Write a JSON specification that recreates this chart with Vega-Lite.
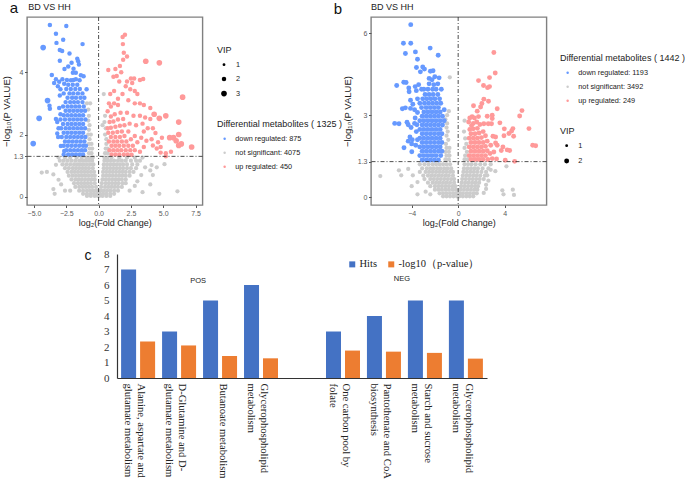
{"$schema":"https://vega.github.io/schema/vega-lite/v6.json","padding":{"left":0,"top":0,"right":12,"bottom":70},"background":"white","bounds":"flush","spacing":237,"resolve":{"scale":{"color":"independent","size":"independent"},"legend":{"color":"independent","size":"independent"}},
"config":{"view":{"stroke":"#808080","strokeWidth":1.4},"font":"Liberation Sans","axis":{"grid":false,"domain":false,"tickColor":"#555","tickSize":2.5,"labelColor":"#5a5a5a","labelFontSize":7,"titleFontSize":9,"titleFontWeight":"normal","titleColor":"#222","labelPadding":1.5,"labelOverlap":false},"legend":{"titleFontWeight":"normal","titleFontSize":9,"labelFontSize":7.3,"labelColor":"#222","titleColor":"#222"}},
"datasets":{
"ag":[{"x":-0.9,"y":0.03},{"x":-0.6,"y":0.03},{"x":-0.3,"y":0.03},{"x":-0.05,"y":0.03},{"x":0.05,"y":0.03},{"x":0.3,"y":0.03},{"x":0.6,"y":0.03},{"x":0.9,"y":0.03},
{"x":-1.2,"y":0.1},{"x":-0.9,"y":0.1},{"x":-0.6,"y":0.1},{"x":-0.35,"y":0.1},{"x":-0.1,"y":0.1},{"x":0.1,"y":0.1},{"x":0.35,"y":0.1},{"x":0.6,"y":0.1},{"x":0.9,"y":0.1},{"x":1.2,"y":0.1},
{"x":-1.5,"y":0.2},{"x":-1.2,"y":0.2},{"x":-0.9,"y":0.2},{"x":-0.65,"y":0.2},{"x":-0.4,"y":0.2},{"x":-0.15,"y":0.2},{"x":0.15,"y":0.2},{"x":0.4,"y":0.2},{"x":0.65,"y":0.2},{"x":0.9,"y":0.2},{"x":1.2,"y":0.2},{"x":1.5,"y":0.2},
{"x":-1.8,"y":0.32},{"x":-1.5,"y":0.32},{"x":-1.25,"y":0.32},{"x":-1,"y":0.32},{"x":-0.75,"y":0.32},{"x":-0.5,"y":0.32},{"x":-0.2,"y":0.32},{"x":0.2,"y":0.32},{"x":0.5,"y":0.32},{"x":0.75,"y":0.32},{"x":1,"y":0.32},{"x":1.25,"y":0.32},{"x":1.5,"y":0.32},{"x":1.8,"y":0.32},
{"x":-1.9,"y":0.44},{"x":-1.6,"y":0.44},{"x":-1.35,"y":0.44},{"x":-1.1,"y":0.44},{"x":-0.85,"y":0.44},{"x":-0.6,"y":0.44},{"x":-0.3,"y":0.44},{"x":0.25,"y":0.44},{"x":0.55,"y":0.44},{"x":0.8,"y":0.44},{"x":1.05,"y":0.44},{"x":1.3,"y":0.44},{"x":1.55,"y":0.44},{"x":1.85,"y":0.44},{"x":2.1,"y":0.44},
{"x":-2.1,"y":0.56},{"x":-1.8,"y":0.56},{"x":-1.55,"y":0.56},{"x":-1.3,"y":0.56},{"x":-1.05,"y":0.56},{"x":-0.8,"y":0.56},{"x":-0.55,"y":0.56},{"x":-0.3,"y":0.56},{"x":0.3,"y":0.56},{"x":0.55,"y":0.56},{"x":0.8,"y":0.56},{"x":1.05,"y":0.56},{"x":1.3,"y":0.56},{"x":1.55,"y":0.56},{"x":1.8,"y":0.56},{"x":2.1,"y":0.56},
{"x":-2.3,"y":0.68},{"x":-2,"y":0.68},{"x":-1.75,"y":0.68},{"x":-1.5,"y":0.68},{"x":-1.25,"y":0.68},{"x":-1,"y":0.68},{"x":-0.75,"y":0.68},{"x":-0.5,"y":0.68},{"x":-0.3,"y":0.68},{"x":0.35,"y":0.68},{"x":0.6,"y":0.68},{"x":0.85,"y":0.68},{"x":1.1,"y":0.68},{"x":1.35,"y":0.68},{"x":1.6,"y":0.68},{"x":1.85,"y":0.68},{"x":2.1,"y":0.68},{"x":2.4,"y":0.68},
{"x":-2.4,"y":0.8},{"x":-2.1,"y":0.8},{"x":-1.85,"y":0.8},{"x":-1.6,"y":0.8},{"x":-1.35,"y":0.8},{"x":-1.1,"y":0.8},{"x":-0.85,"y":0.8},{"x":-0.6,"y":0.8},{"x":-0.35,"y":0.8},{"x":0.35,"y":0.8},{"x":0.6,"y":0.8},{"x":0.85,"y":0.8},{"x":1.1,"y":0.8},{"x":1.35,"y":0.8},{"x":1.6,"y":0.8},{"x":1.85,"y":0.8},{"x":2.1,"y":0.8},{"x":2.4,"y":0.8},{"x":2.7,"y":0.8},
{"x":-2.6,"y":0.92},{"x":-2.3,"y":0.92},{"x":-2,"y":0.92},{"x":-1.75,"y":0.92},{"x":-1.5,"y":0.92},{"x":-1.25,"y":0.92},{"x":-1,"y":0.92},{"x":-0.75,"y":0.92},{"x":-0.45,"y":0.92},{"x":0.4,"y":0.92},{"x":0.65,"y":0.92},{"x":0.9,"y":0.92},{"x":1.15,"y":0.92},{"x":1.4,"y":0.92},{"x":1.65,"y":0.92},{"x":1.9,"y":0.92},{"x":2.2,"y":0.92},{"x":2.5,"y":0.92},{"x":2.9,"y":0.92},
{"x":-2.8,"y":1.04},{"x":-2.5,"y":1.04},{"x":-2.2,"y":1.04},{"x":-1.9,"y":1.04},{"x":-1.65,"y":1.04},{"x":-1.4,"y":1.04},{"x":-1.15,"y":1.04},{"x":-0.9,"y":1.04},{"x":-0.65,"y":1.04},{"x":-0.4,"y":1.04},{"x":0.4,"y":1.04},{"x":0.65,"y":1.04},{"x":0.9,"y":1.04},{"x":1.15,"y":1.04},{"x":1.4,"y":1.04},{"x":1.65,"y":1.04},{"x":1.9,"y":1.04},{"x":2.2,"y":1.04},{"x":2.6,"y":1.04},{"x":3,"y":1.04},
{"x":-3,"y":1.16},{"x":-2.7,"y":1.16},{"x":-2.4,"y":1.16},{"x":-2.1,"y":1.16},{"x":-1.8,"y":1.16},{"x":-1.5,"y":1.16},{"x":-1.25,"y":1.16},{"x":-1,"y":1.16},{"x":-0.75,"y":1.16},{"x":-0.5,"y":1.16},{"x":0.45,"y":1.16},{"x":0.7,"y":1.16},{"x":0.95,"y":1.16},{"x":1.2,"y":1.16},{"x":1.5,"y":1.16},{"x":1.8,"y":1.16},{"x":2.1,"y":1.16},{"x":2.5,"y":1.16},{"x":2.9,"y":1.16},{"x":3.2,"y":1.16},
{"x":-3.1,"y":1.26},{"x":-2.6,"y":1.26},{"x":-2.2,"y":1.26},{"x":-1.7,"y":1.26},{"x":-1.3,"y":1.26},{"x":-0.95,"y":1.26},{"x":-0.7,"y":1.26},{"x":-0.45,"y":1.26},{"x":0.45,"y":1.26},{"x":0.7,"y":1.26},{"x":1,"y":1.26},{"x":1.6,"y":1.26},{"x":2.2,"y":1.26},{"x":2.8,"y":1.26},{"x":3.4,"y":1.26},
{"x":-0.75,"y":1.4},{"x":-0.55,"y":1.4},{"x":-0.7,"y":1.55},{"x":-0.5,"y":1.55},{"x":-0.75,"y":1.7},{"x":-0.55,"y":1.7},{"x":-0.7,"y":1.85},{"x":-0.8,"y":2},{"x":-0.6,"y":2},{"x":-0.75,"y":2.15},{"x":-0.7,"y":2.3},{"x":-0.8,"y":2.45},{"x":-0.75,"y":2.6},{"x":-0.8,"y":2.8},{"x":-0.65,"y":3},{"x":-0.9,"y":3},
{"x":0.5,"y":1.4},{"x":0.7,"y":1.4},{"x":0.55,"y":1.55},{"x":0.7,"y":1.55},{"x":0.6,"y":1.7},{"x":0.6,"y":1.85},{"x":0.5,"y":2},{"x":0.55,"y":2.2},{"x":0.45,"y":2.4},{"x":0.5,"y":2.6},{"x":0.4,"y":3.3},{"x":0.3,"y":2.3},
{"x":-4.4,"y":0.78},{"x":-4,"y":0.8},{"x":-3.5,"y":0.72},{"x":-3.3,"y":1.03},{"x":-3.1,"y":0.55},{"x":-3.5,"y":0.25},{"x":-3.4,"y":0.1},{"x":-2.9,"y":0.4},{"x":-2.6,"y":0.2},{"x":-2.2,"y":0.2},{"x":3.3,"y":0.7},{"x":3.6,"y":0.95},{"x":4,"y":0.85},{"x":4.1,"y":1.02},{"x":4.5,"y":0.95},{"x":4.2,"y":0.7},{"x":5.1,"y":1.05},{"x":4,"y":0.4},{"x":3.4,"y":0.15},{"x":2.8,"y":0.35},{"x":3,"y":0.5},{"x":4.7,"y":0.1},{"x":6.1,"y":0.18},{"x":2.4,"y":0.2}],
"ab":[{"x":-3.77,"y":5.51,"v":2},{"x":-2.5,"y":5.48,"v":2},{"x":-3.3,"y":5.23,"v":2},{"x":-2.74,"y":5.04,"v":2},{"x":-3.26,"y":4.94,"v":2},{"x":-1.24,"y":4.9,"v":2},{"x":-4.29,"y":4.79,"v":3},{"x":-3,"y":4.71,"v":2},{"x":-2.82,"y":4.68,"v":2},{"x":-2.25,"y":4.6,"v":2},{"x":-1.65,"y":4.43,"v":2},{"x":-1.58,"y":4.35,"v":2},{"x":-1.52,"y":4.25,"v":2},{"x":-3,"y":4.37,"v":2},{"x":-2.09,"y":4.3,"v":2},{"x":-2.35,"y":4.18,"v":2},{"x":-2.64,"y":4.1,"v":2},{"x":-1.94,"y":4.11,"v":2},{"x":-1.99,"y":3.98,"v":2},{"x":-1.76,"y":3.98,"v":2},{"x":-3.62,"y":3.91,"v":2},{"x":-1.37,"y":3.9,"v":2},{"x":-1.16,"y":3.87,"v":2},{"x":-3.3,"y":3.77,"v":2},{"x":-3.44,"y":3.65,"v":2},{"x":-2.8,"y":3.77,"v":2},{"x":-3.05,"y":3.69,"v":2},{"x":-2.66,"y":3.63,"v":2},{"x":-2.14,"y":3.74,"v":2},{"x":-1.76,"y":3.77,"v":2},{"x":-1.47,"y":3.74,"v":2},{"x":-3.95,"y":3.09,"v":3},{"x":-3.8,"y":2.92,"v":2},{"x":-3.77,"y":2.83,"v":2},{"x":-4.6,"y":2.52,"v":3},{"x":-5.06,"y":1.71,"v":3},{"x":-0.93,"y":3.45,"v":2},{"x":-3.3,"y":2.5,"v":2},{"x":-3.2,"y":2.03,"v":2},{"x":-3.13,"y":1.92,"v":2},{"x":-2.92,"y":1.63,"v":2},{"x":-2.66,"y":1.47,"v":2},{"x":-3.15,"y":3.55,"v":2},{"x":-2.95,"y":3.45,"v":2},{"x":-3,"y":3.25,"v":2},{"x":-3.05,"y":2.85,"v":2},{"x":-2.95,"y":2.65,"v":2},{"x":-3.2,"y":2.4,"v":2},{"x":-3.1,"y":2.2,"v":2},
{"x":-2.7,"y":1.36,"v":2},{"x":-2.35,"y":1.36,"v":2},{"x":-2.05,"y":1.36,"v":2},{"x":-1.75,"y":1.36,"v":2},{"x":-1.45,"y":1.36,"v":2},{"x":-1.2,"y":1.36,"v":2},{"x":-2.5,"y":1.5,"v":2},{"x":-2.2,"y":1.5,"v":2},{"x":-1.9,"y":1.5,"v":2},{"x":-1.6,"y":1.5,"v":2},{"x":-1.3,"y":1.5,"v":2},{"x":-1.05,"y":1.5,"v":2},{"x":-2.7,"y":1.64,"v":2},{"x":-2.4,"y":1.64,"v":2},{"x":-2.1,"y":1.64,"v":2},{"x":-1.8,"y":1.64,"v":2},{"x":-1.5,"y":1.64,"v":2},{"x":-1.2,"y":1.64,"v":2},{"x":-0.98,"y":1.64,"v":2},{"x":-2.6,"y":1.78,"v":2},{"x":-2.3,"y":1.78,"v":2},{"x":-2,"y":1.78,"v":2},{"x":-1.7,"y":1.78,"v":2},{"x":-1.4,"y":1.78,"v":2},{"x":-1.1,"y":1.78,"v":2},{"x":-2.85,"y":1.92,"v":2},{"x":-2.5,"y":1.92,"v":2},{"x":-2.2,"y":1.92,"v":2},{"x":-1.9,"y":1.92,"v":2},{"x":-1.6,"y":1.92,"v":2},{"x":-1.3,"y":1.92,"v":2},{"x":-1.02,"y":1.92,"v":2},{"x":-2.7,"y":2.06,"v":2},{"x":-2.4,"y":2.06,"v":2},{"x":-2.1,"y":2.06,"v":2},{"x":-1.8,"y":2.06,"v":2},{"x":-1.5,"y":2.06,"v":2},{"x":-1.2,"y":2.06,"v":2},{"x":-2.9,"y":2.2,"v":2},{"x":-2.55,"y":2.2,"v":2},{"x":-2.25,"y":2.2,"v":2},{"x":-1.95,"y":2.2,"v":2},{"x":-1.65,"y":2.2,"v":2},{"x":-1.35,"y":2.2,"v":2},{"x":-1.05,"y":2.2,"v":2},{"x":-2.75,"y":2.34,"v":2},{"x":-2.4,"y":2.34,"v":2},{"x":-2.1,"y":2.34,"v":2},{"x":-1.8,"y":2.34,"v":2},{"x":-1.5,"y":2.34,"v":2},{"x":-1.2,"y":2.34,"v":2},{"x":-2.95,"y":2.48,"v":2},{"x":-2.6,"y":2.48,"v":2},{"x":-2.25,"y":2.48,"v":2},{"x":-1.95,"y":2.48,"v":2},{"x":-1.65,"y":2.48,"v":2},{"x":-1.35,"y":2.48,"v":2},{"x":-1.02,"y":2.48,"v":2},{"x":-2.7,"y":2.62,"v":2},{"x":-2.4,"y":2.62,"v":2},{"x":-2.1,"y":2.62,"v":2},{"x":-1.8,"y":2.62,"v":2},{"x":-1.5,"y":2.62,"v":2},{"x":-1.2,"y":2.62,"v":2},{"x":-2.55,"y":2.76,"v":2},{"x":-2.25,"y":2.76,"v":2},{"x":-1.95,"y":2.76,"v":2},{"x":-1.65,"y":2.76,"v":2},{"x":-1.35,"y":2.76,"v":2},{"x":-1.05,"y":2.76,"v":2},{"x":-2.75,"y":2.9,"v":2},{"x":-2.4,"y":2.9,"v":2},{"x":-2.1,"y":2.9,"v":2},{"x":-1.8,"y":2.9,"v":2},{"x":-1.5,"y":2.9,"v":2},{"x":-1.15,"y":2.9,"v":2},{"x":-2.55,"y":3.04,"v":2},{"x":-2.2,"y":3.04,"v":2},{"x":-1.9,"y":3.04,"v":2},{"x":-1.6,"y":3.04,"v":2},{"x":-1.25,"y":3.04,"v":2},{"x":-2.4,"y":3.18,"v":2},{"x":-2.05,"y":3.18,"v":2},{"x":-1.75,"y":3.18,"v":2},{"x":-1.4,"y":3.18,"v":2},{"x":-1.1,"y":3.18,"v":2},{"x":-2.7,"y":3.32,"v":2},{"x":-2.25,"y":3.32,"v":2},{"x":-1.95,"y":3.32,"v":2},{"x":-1.6,"y":3.32,"v":2},{"x":-1.25,"y":3.32,"v":2},{"x":-2.5,"y":3.46,"v":2},{"x":-2.15,"y":3.46,"v":2},{"x":-1.8,"y":3.46,"v":2},{"x":-1.45,"y":3.46,"v":2},{"x":-2.35,"y":3.6,"v":2},{"x":-2,"y":3.6,"v":2},{"x":-1.65,"y":3.6,"v":2},{"x":-2.45,"y":3.75,"v":2},{"x":-1.95,"y":3.75,"v":2}],
"ap":[{"x":2.04,"y":5.2,"v":2},{"x":1.86,"y":5.13,"v":2},{"x":1.88,"y":4.9,"v":2},{"x":1.95,"y":4.62,"v":2},{"x":2.2,"y":4.5,"v":2},{"x":1.9,"y":4.4,"v":2},{"x":3.65,"y":4.35,"v":3},{"x":4.7,"y":4.3,"v":3},{"x":1.65,"y":4.2,"v":2},{"x":1.3,"y":4.1,"v":2},{"x":0.75,"y":4.07,"v":2},{"x":1.75,"y":4,"v":2},{"x":1.4,"y":3.88,"v":2},{"x":1.15,"y":3.85,"v":2},{"x":1.6,"y":3.7,"v":2},{"x":2.5,"y":3.8,"v":2},{"x":2.75,"y":3.8,"v":2},{"x":3.2,"y":3.75,"v":2},{"x":3.45,"y":3.78,"v":2},{"x":2.2,"y":3.7,"v":2},{"x":2.6,"y":3.65,"v":2},{"x":2.1,"y":3.55,"v":2},{"x":2.8,"y":3.4,"v":2},{"x":1.2,"y":3.4,"v":2},{"x":0.9,"y":3.3,"v":2},{"x":1.85,"y":3.3,"v":2},{"x":2.45,"y":3.45,"v":2},{"x":3,"y":3.3,"v":2},{"x":1.5,"y":3.15,"v":2},{"x":1.2,"y":3,"v":2},{"x":0.8,"y":3,"v":2},{"x":0.95,"y":2.9,"v":2},{"x":1.5,"y":2.95,"v":2},{"x":2.3,"y":3.1,"v":2},{"x":2.8,"y":3,"v":2},{"x":3.2,"y":3,"v":2},{"x":3.5,"y":2.95,"v":2},{"x":4,"y":2.85,"v":2},{"x":6.5,"y":3.2,"v":3},{"x":4.3,"y":2.65,"v":3},{"x":5.2,"y":2.6,"v":3},{"x":4.7,"y":2.52,"v":3},{"x":6.2,"y":2.4,"v":3},{"x":4,"y":2.5,"v":2},{"x":3.6,"y":2.55,"v":2},{"x":3.2,"y":2.6,"v":2},{"x":2.7,"y":2.6,"v":2},{"x":2.2,"y":2.7,"v":2},{"x":1.7,"y":2.7,"v":2},{"x":1.25,"y":2.65,"v":2},{"x":0.7,"y":2.75,"v":2},{"x":3.4,"y":2.35,"v":2},{"x":3.8,"y":2.2,"v":2},{"x":4.2,"y":2.2,"v":2},{"x":4.4,"y":2.05,"v":2},{"x":3.5,"y":2.1,"v":2},{"x":2.9,"y":2.3,"v":2},{"x":2.4,"y":2.35,"v":2},{"x":5.5,"y":1.9,"v":3},{"x":5.8,"y":1.9,"v":3},{"x":6.2,"y":2,"v":3},{"x":6,"y":1.8,"v":3},{"x":6.2,"y":1.65,"v":3},{"x":6.4,"y":1.7,"v":3},{"x":7.2,"y":1.6,"v":3},{"x":4.9,"y":1.9,"v":2},{"x":4.6,"y":1.75,"v":2},{"x":4.1,"y":1.85,"v":2},{"x":3.7,"y":1.8,"v":2},{"x":4.2,"y":1.65,"v":2},{"x":4.5,"y":1.55,"v":2},{"x":4.8,"y":1.6,"v":2},{"x":5.6,"y":1.45,"v":2},{"x":4.8,"y":1.42,"v":2},{"x":5.2,"y":1.3,"v":2},{"x":5.2,"y":1.4,"v":2},{"x":3.3,"y":1.9,"v":2},{"x":3,"y":1.75,"v":2},{"x":3.5,"y":1.6,"v":2},{"x":3.2,"y":1.45,"v":2},{"x":2.8,"y":1.5,"v":2},{"x":2.55,"y":1.35,"v":2},
{"x":1,"y":1.36,"v":2},{"x":1.3,"y":1.36,"v":2},{"x":1.6,"y":1.36,"v":2},{"x":1.95,"y":1.36,"v":2},{"x":2.25,"y":1.36,"v":2},{"x":0.85,"y":1.5,"v":2},{"x":1.15,"y":1.5,"v":2},{"x":1.45,"y":1.5,"v":2},{"x":1.75,"y":1.5,"v":2},{"x":2.1,"y":1.5,"v":2},{"x":2.45,"y":1.5,"v":2},{"x":1,"y":1.64,"v":2},{"x":1.3,"y":1.64,"v":2},{"x":1.6,"y":1.64,"v":2},{"x":1.95,"y":1.64,"v":2},{"x":2.3,"y":1.64,"v":2},{"x":2.65,"y":1.64,"v":2},{"x":0.8,"y":1.78,"v":2},{"x":1.15,"y":1.78,"v":2},{"x":1.45,"y":1.78,"v":2},{"x":1.8,"y":1.78,"v":2},{"x":2.15,"y":1.78,"v":2},{"x":2.5,"y":1.85,"v":2},{"x":0.95,"y":1.92,"v":2},{"x":1.3,"y":1.92,"v":2},{"x":1.65,"y":1.92,"v":2},{"x":2,"y":1.95,"v":2},{"x":2.8,"y":1.95,"v":2},{"x":0.75,"y":2.06,"v":2},{"x":1.1,"y":2.06,"v":2},{"x":1.45,"y":2.08,"v":2},{"x":1.8,"y":2.1,"v":2},{"x":2.3,"y":2.1,"v":2},{"x":0.7,"y":2.2,"v":2},{"x":0.95,"y":2.22,"v":2},{"x":1.3,"y":2.25,"v":2},{"x":1.65,"y":2.28,"v":2},{"x":2,"y":2.3,"v":2},{"x":0.85,"y":2.4,"v":2},{"x":1.15,"y":2.42,"v":2},{"x":1.5,"y":2.48,"v":2},{"x":1.9,"y":2.5,"v":2},{"x":0.95,"y":2.58,"v":2}],
"bg":[{"x":-1.3,"y":0.03},{"x":-1,"y":0.03},{"x":-0.7,"y":0.03},{"x":-0.4,"y":0.03},{"x":-0.1,"y":0.03},{"x":0.1,"y":0.03},{"x":0.4,"y":0.03},{"x":0.7,"y":0.03},{"x":1,"y":0.03},{"x":1.3,"y":0.03},
{"x":-1.6,"y":0.14},{"x":-1.3,"y":0.14},{"x":-1,"y":0.14},{"x":-0.7,"y":0.14},{"x":-0.4,"y":0.14},{"x":-0.15,"y":0.14},{"x":0.15,"y":0.14},{"x":0.4,"y":0.14},{"x":0.7,"y":0.14},{"x":1,"y":0.14},{"x":1.3,"y":0.14},{"x":1.6,"y":0.14},
{"x":-2,"y":0.27},{"x":-1.7,"y":0.27},{"x":-1.4,"y":0.27},{"x":-1.1,"y":0.27},{"x":-0.8,"y":0.27},{"x":-0.5,"y":0.27},{"x":-0.2,"y":0.27},{"x":0.2,"y":0.27},{"x":0.5,"y":0.27},{"x":0.8,"y":0.27},{"x":1.1,"y":0.27},{"x":1.4,"y":0.27},{"x":1.65,"y":0.27},
{"x":-2.4,"y":0.4},{"x":-2,"y":0.4},{"x":-1.7,"y":0.4},{"x":-1.4,"y":0.4},{"x":-1.1,"y":0.4},{"x":-0.8,"y":0.4},{"x":-0.5,"y":0.4},{"x":-0.25,"y":0.4},{"x":0.25,"y":0.4},{"x":0.55,"y":0.4},{"x":0.85,"y":0.4},{"x":1.15,"y":0.4},{"x":1.45,"y":0.4},{"x":1.7,"y":0.4},
{"x":-2.6,"y":0.53},{"x":-2.2,"y":0.53},{"x":-1.9,"y":0.53},{"x":-1.6,"y":0.53},{"x":-1.3,"y":0.53},{"x":-1,"y":0.53},{"x":-0.7,"y":0.53},{"x":-0.35,"y":0.53},{"x":0.3,"y":0.53},{"x":0.6,"y":0.53},{"x":0.9,"y":0.53},{"x":1.2,"y":0.53},{"x":1.5,"y":0.53},{"x":1.8,"y":0.53},
{"x":-2.9,"y":0.66},{"x":-2.4,"y":0.66},{"x":-2.1,"y":0.66},{"x":-1.8,"y":0.66},{"x":-1.5,"y":0.66},{"x":-1.2,"y":0.66},{"x":-0.9,"y":0.66},{"x":-0.6,"y":0.66},{"x":-0.35,"y":0.66},{"x":0.35,"y":0.66},{"x":0.65,"y":0.66},{"x":0.95,"y":0.66},{"x":1.25,"y":0.66},{"x":1.55,"y":0.66},{"x":1.85,"y":0.66},{"x":2.2,"y":0.66},
{"x":-3,"y":0.79},{"x":-2.6,"y":0.79},{"x":-2.3,"y":0.79},{"x":-2,"y":0.79},{"x":-1.7,"y":0.79},{"x":-1.4,"y":0.79},{"x":-1.1,"y":0.79},{"x":-0.8,"y":0.79},{"x":-0.45,"y":0.79},{"x":0.4,"y":0.79},{"x":0.7,"y":0.79},{"x":1,"y":0.79},{"x":1.3,"y":0.79},{"x":1.6,"y":0.79},{"x":1.9,"y":0.79},{"x":2.3,"y":0.79},
{"x":-3.3,"y":0.92},{"x":-2.8,"y":0.92},{"x":-2.5,"y":0.92},{"x":-2.2,"y":0.92},{"x":-1.9,"y":0.92},{"x":-1.6,"y":0.92},{"x":-1.3,"y":0.92},{"x":-1,"y":0.92},{"x":-0.7,"y":0.92},{"x":-0.45,"y":0.92},{"x":0.45,"y":0.92},{"x":0.75,"y":0.92},{"x":1.05,"y":0.92},{"x":1.35,"y":0.92},{"x":1.65,"y":0.92},{"x":2,"y":0.92},{"x":2.4,"y":0.92},
{"x":-3.1,"y":1.05},{"x":-2.7,"y":1.05},{"x":-2.4,"y":1.05},{"x":-2.1,"y":1.05},{"x":-1.8,"y":1.05},{"x":-1.5,"y":1.05},{"x":-1.2,"y":1.05},{"x":-0.9,"y":1.05},{"x":-0.6,"y":1.05},{"x":0.5,"y":1.05},{"x":0.8,"y":1.05},{"x":1.1,"y":1.05},{"x":1.4,"y":1.05},{"x":1.7,"y":1.05},{"x":2.1,"y":1.05},{"x":2.6,"y":1.05},
{"x":-3.3,"y":1.2},{"x":-2.9,"y":1.2},{"x":-2.55,"y":1.2},{"x":-2.2,"y":1.2},{"x":-1.9,"y":1.2},{"x":-1.6,"y":1.2},{"x":-1.3,"y":1.2},{"x":-1,"y":1.2},{"x":-0.7,"y":1.2},{"x":0.55,"y":1.2},{"x":0.85,"y":1.2},{"x":1.15,"y":1.2},{"x":1.5,"y":1.2},{"x":1.9,"y":1.2},{"x":2.3,"y":1.2},{"x":2.8,"y":1.2},
{"x":-1.1,"y":1.38},{"x":-0.8,"y":1.38},{"x":-1,"y":1.52},{"x":-0.75,"y":1.52},{"x":-1.1,"y":1.66},{"x":-0.8,"y":1.66},{"x":-1,"y":1.8},{"x":-0.75,"y":1.8},{"x":-1.05,"y":1.95},{"x":-0.85,"y":2.1},{"x":-1,"y":2.25},{"x":-0.9,"y":2.4},{"x":-1,"y":2.55},{"x":-0.95,"y":2.7},{"x":-1.1,"y":2.85},{"x":-0.95,"y":3},{"x":-0.8,"y":3.15},{"x":-0.72,"y":4.39},
{"x":0.55,"y":1.38},{"x":0.8,"y":1.38},{"x":0.6,"y":1.52},{"x":0.75,"y":1.66},{"x":0.55,"y":1.8},{"x":0.7,"y":1.95},{"x":0.6,"y":2.15},{"x":0.5,"y":2.4},{"x":0.55,"y":2.8},
{"x":-6.7,"y":0.77},{"x":-5.1,"y":0.98},{"x":-4.9,"y":0.8},{"x":-4.3,"y":1.03},{"x":-3.9,"y":0.8},{"x":-4,"y":0.4},{"x":-3.5,"y":0.55},{"x":-3.5,"y":0.1},{"x":-2.8,"y":0.2},{"x":-2.4,"y":0.1},{"x":2.4,"y":0.45},{"x":2.6,"y":0.6},{"x":2.4,"y":0.3},{"x":2.5,"y":0.8},{"x":2.8,"y":1},{"x":3.2,"y":0.95},{"x":4.15,"y":1.13},{"x":3.8,"y":0.25},{"x":3.9,"y":0.1},{"x":4.7,"y":0.27},{"x":4.8,"y":0.08},{"x":2.2,"y":0.15}],
"bb":[{"x":-4.08,"y":6.32,"v":2},{"x":-4.71,"y":5.64,"v":2},{"x":-4.08,"y":5.64,"v":2},{"x":-4.54,"y":5.26,"v":2},{"x":-3.68,"y":5.32,"v":2},{"x":-2.41,"y":5.46,"v":2},{"x":-1.72,"y":5.2,"v":2},{"x":-3.5,"y":5.05,"v":2},{"x":-3.05,"y":4.77,"v":2},{"x":-3.59,"y":4.75,"v":2},{"x":-2.9,"y":4.69,"v":2},{"x":-3.25,"y":4.59,"v":2},{"x":-2.16,"y":4.63,"v":2},{"x":-2.39,"y":4.61,"v":2},{"x":-1.64,"y":4.37,"v":2},{"x":-2.01,"y":4.41,"v":2},{"x":-4.68,"y":4.21,"v":2},{"x":-4.48,"y":4.2,"v":2},{"x":-5.29,"y":4.09,"v":2},{"x":-5.46,"y":2.7,"v":2},{"x":-5.09,"y":2.69,"v":2},{"x":-4.66,"y":1.81,"v":2},{"x":-3.99,"y":1.66,"v":2},{"x":-4.8,"y":3.24,"v":2},{"x":-4.54,"y":3.27,"v":2},{"x":-4.4,"y":2.74,"v":2},{"x":-4.25,"y":4,"v":2},{"x":-4.22,"y":3.86,"v":2},{"x":-3.4,"y":4.12,"v":2},{"x":-3.7,"y":4.05,"v":2},{"x":-3.15,"y":3.95,"v":2},{"x":-3.6,"y":3.9,"v":2},{"x":-2.5,"y":4.35,"v":2},{"x":-2.25,"y":4.3,"v":2},{"x":-2.5,"y":4.15,"v":2},{"x":-2.1,"y":4.12,"v":2},{"x":-1.75,"y":4.15,"v":2},{"x":-1.45,"y":3.95,"v":2},{"x":-1.2,"y":3.2,"v":2},{"x":-4.1,"y":3.55,"v":2},{"x":-3.9,"y":3.4,"v":2},{"x":-4.1,"y":3.25,"v":2},{"x":-3.75,"y":3.2,"v":2},{"x":-4.3,"y":2.65,"v":2},{"x":-4.05,"y":2.55,"v":2},{"x":-3.75,"y":2.7,"v":2},{"x":-4.15,"y":2.2,"v":2},{"x":-4.3,"y":2.05,"v":2},{"x":-3.95,"y":2.1,"v":2},{"x":-4,"y":1.95,"v":2},{"x":-3.6,"y":2.4,"v":2},{"x":-3.7,"y":2.9,"v":2},{"x":-3.5,"y":3.1,"v":2},{"x":-3.5,"y":3.6,"v":2},{"x":-3.65,"y":1.9,"v":2},{"x":-3.5,"y":2.1,"v":2},{"x":-3.55,"y":2.65,"v":2},
{"x":-3.1,"y":1.36,"v":2},{"x":-2.75,"y":1.36,"v":2},{"x":-2.4,"y":1.36,"v":2},{"x":-2.05,"y":1.36,"v":2},{"x":-1.7,"y":1.36,"v":2},{"x":-3.3,"y":1.52,"v":2},{"x":-2.95,"y":1.52,"v":2},{"x":-2.6,"y":1.52,"v":2},{"x":-2.25,"y":1.52,"v":2},{"x":-1.9,"y":1.52,"v":2},{"x":-1.5,"y":1.52,"v":2},{"x":-3.1,"y":1.68,"v":2},{"x":-2.75,"y":1.68,"v":2},{"x":-2.4,"y":1.68,"v":2},{"x":-2.05,"y":1.68,"v":2},{"x":-1.7,"y":1.68,"v":2},{"x":-1.4,"y":1.68,"v":2},{"x":-3.3,"y":1.84,"v":2},{"x":-2.95,"y":1.84,"v":2},{"x":-2.6,"y":1.84,"v":2},{"x":-2.25,"y":1.84,"v":2},{"x":-1.9,"y":1.84,"v":2},{"x":-1.55,"y":1.84,"v":2},{"x":-3.1,"y":2,"v":2},{"x":-2.75,"y":2,"v":2},{"x":-2.4,"y":2,"v":2},{"x":-2.05,"y":2,"v":2},{"x":-1.7,"y":2,"v":2},{"x":-1.4,"y":2,"v":2},{"x":-3.3,"y":2.16,"v":2},{"x":-2.95,"y":2.16,"v":2},{"x":-2.6,"y":2.16,"v":2},{"x":-2.25,"y":2.16,"v":2},{"x":-1.9,"y":2.16,"v":2},{"x":-1.55,"y":2.16,"v":2},{"x":-3.1,"y":2.32,"v":2},{"x":-2.75,"y":2.32,"v":2},{"x":-2.4,"y":2.32,"v":2},{"x":-2.05,"y":2.32,"v":2},{"x":-1.7,"y":2.32,"v":2},{"x":-1.4,"y":2.32,"v":2},{"x":-3.3,"y":2.48,"v":2},{"x":-2.95,"y":2.48,"v":2},{"x":-2.6,"y":2.48,"v":2},{"x":-2.25,"y":2.48,"v":2},{"x":-1.9,"y":2.48,"v":2},{"x":-1.55,"y":2.48,"v":2},{"x":-3.1,"y":2.64,"v":2},{"x":-2.75,"y":2.64,"v":2},{"x":-2.4,"y":2.64,"v":2},{"x":-2.05,"y":2.64,"v":2},{"x":-1.7,"y":2.64,"v":2},{"x":-1.35,"y":2.64,"v":2},{"x":-3.3,"y":2.8,"v":2},{"x":-2.95,"y":2.8,"v":2},{"x":-2.6,"y":2.8,"v":2},{"x":-2.25,"y":2.8,"v":2},{"x":-1.9,"y":2.8,"v":2},{"x":-1.55,"y":2.8,"v":2},{"x":-1.2,"y":2.8,"v":2},{"x":-3.1,"y":2.96,"v":2},{"x":-2.75,"y":2.96,"v":2},{"x":-2.4,"y":2.96,"v":2},{"x":-2.05,"y":2.96,"v":2},{"x":-1.7,"y":2.96,"v":2},{"x":-1.35,"y":2.96,"v":2},{"x":-2.95,"y":3.12,"v":2},{"x":-2.6,"y":3.12,"v":2},{"x":-2.25,"y":3.12,"v":2},{"x":-1.9,"y":3.12,"v":2},{"x":-1.55,"y":3.12,"v":2},{"x":-3.15,"y":3.28,"v":2},{"x":-2.75,"y":3.28,"v":2},{"x":-2.4,"y":3.28,"v":2},{"x":-2.05,"y":3.28,"v":2},{"x":-1.7,"y":3.28,"v":2},{"x":-3.3,"y":3.44,"v":2},{"x":-2.9,"y":3.44,"v":2},{"x":-2.55,"y":3.44,"v":2},{"x":-2.2,"y":3.44,"v":2},{"x":-1.85,"y":3.44,"v":2},{"x":-1.5,"y":3.44,"v":2},{"x":-3.05,"y":3.6,"v":2},{"x":-2.7,"y":3.6,"v":2},{"x":-2.35,"y":3.6,"v":2},{"x":-2,"y":3.6,"v":2},{"x":-1.6,"y":3.6,"v":2},{"x":-2.85,"y":3.76,"v":2},{"x":-2.5,"y":3.76,"v":2},{"x":-2.15,"y":3.76,"v":2},{"x":-1.75,"y":3.76,"v":2},{"x":-2.95,"y":3.95,"v":2},{"x":-2.6,"y":3.95,"v":2},{"x":-2.2,"y":3.95,"v":2},{"x":-1.9,"y":3.95,"v":2}],
"bp":[{"x":3.07,"y":5.3,"v":2},{"x":3.19,"y":4.55,"v":2},{"x":2.7,"y":4.38,"v":2},{"x":1.75,"y":4.27,"v":2},{"x":2.18,"y":4.09,"v":2},{"x":2.7,"y":4.05,"v":2},{"x":2.53,"y":4.01,"v":2},{"x":2.21,"y":3.59,"v":2},{"x":2.61,"y":3.51,"v":2},{"x":2.04,"y":3.43,"v":2},{"x":1.32,"y":3.35,"v":2},{"x":1.93,"y":3.3,"v":2},{"x":1.64,"y":3.15,"v":2},{"x":3.36,"y":3.24,"v":2},{"x":5.49,"y":3.17,"v":2},{"x":5.29,"y":2.97,"v":2},{"x":6.09,"y":2.51,"v":2},{"x":6.41,"y":1.9,"v":2},{"x":6.67,"y":1.88,"v":2},{"x":4.71,"y":2.51,"v":2},{"x":3.97,"y":2.5,"v":2},{"x":4.6,"y":2.42,"v":2},{"x":4.37,"y":2.33,"v":2},{"x":3.94,"y":2.25,"v":2},{"x":4.77,"y":2.23,"v":2},{"x":3.59,"y":2.72,"v":2},{"x":2.93,"y":3,"v":2},{"x":2.93,"y":2.88,"v":2},{"x":2.5,"y":2.96,"v":2},{"x":2.87,"y":2.69,"v":2},{"x":2.59,"y":2.69,"v":2},{"x":2.21,"y":2.69,"v":2},{"x":1.87,"y":2.66,"v":2},{"x":3.22,"y":2.2,"v":2},{"x":2.99,"y":2.23,"v":2},{"x":3.85,"y":1.84,"v":2},{"x":3.71,"y":1.71,"v":2},{"x":4.22,"y":1.73,"v":2},{"x":4.43,"y":1.71,"v":2},{"x":4.86,"y":1.31,"v":2},{"x":4.05,"y":1.35,"v":2},{"x":3.36,"y":1.9,"v":2},{"x":3.22,"y":1.98,"v":2},{"x":3.07,"y":1.65,"v":2},{"x":2.93,"y":1.41,"v":2},{"x":1.2,"y":2.95,"v":2},{"x":1,"y":2.9,"v":2},{"x":1.4,"y":2.9,"v":2},{"x":1.75,"y":2.95,"v":2},{"x":0.9,"y":2.75,"v":2},{"x":1.3,"y":2.7,"v":2},{"x":1.6,"y":2.75,"v":2},{"x":3.3,"y":1.4,"v":2},
{"x":1.1,"y":1.38,"v":2},{"x":1.45,"y":1.38,"v":2},{"x":1.8,"y":1.38,"v":2},{"x":2.15,"y":1.38,"v":2},{"x":2.55,"y":1.38,"v":2},{"x":0.95,"y":1.52,"v":2},{"x":1.3,"y":1.52,"v":2},{"x":1.65,"y":1.52,"v":2},{"x":2,"y":1.52,"v":2},{"x":2.35,"y":1.52,"v":2},{"x":2.75,"y":1.6,"v":2},{"x":1.1,"y":1.68,"v":2},{"x":1.45,"y":1.68,"v":2},{"x":1.8,"y":1.68,"v":2},{"x":2.15,"y":1.68,"v":2},{"x":2.5,"y":1.7,"v":2},{"x":0.95,"y":1.84,"v":2},{"x":1.3,"y":1.84,"v":2},{"x":1.65,"y":1.84,"v":2},{"x":2,"y":1.84,"v":2},{"x":2.35,"y":1.86,"v":2},{"x":2.8,"y":1.9,"v":2},{"x":1.1,"y":2,"v":2},{"x":1.45,"y":2,"v":2},{"x":1.8,"y":2,"v":2},{"x":2.15,"y":2,"v":2},{"x":2.5,"y":2.05,"v":2},{"x":0.95,"y":2.16,"v":2},{"x":1.3,"y":2.16,"v":2},{"x":1.65,"y":2.16,"v":2},{"x":2,"y":2.18,"v":2},{"x":2.35,"y":2.25,"v":2},{"x":1.1,"y":2.32,"v":2},{"x":1.45,"y":2.32,"v":2},{"x":1.8,"y":2.35,"v":2},{"x":2.15,"y":2.4,"v":2},{"x":1,"y":2.48,"v":2},{"x":1.3,"y":2.5,"v":2},{"x":1.65,"y":2.52,"v":2},{"x":1.15,"y":2.62,"v":2}]
},
"vconcat":[{"resolve":{"scale":{"color":"independent","size":"independent"},"legend":{"color":"independent","size":"independent"}},"hconcat":[
{"width":175.5,"height":188,
"encoding":{"x":{"type":"quantitative","scale":{"domain":[-5.54,8.04],"nice":false},"axis":{"values":[-5,-2.5,0,2.5,5,7.5],"format":".1f","title":"log₂(Fold Change)","titlePadding":2}},"y":{"type":"quantitative","scale":{"domain":[-0.26,5.77],"nice":false},"axis":{"values":[0,1.3,2,4],"format":".1~f","title":"−log₁₀(P VALUE)","titleFontSize":9.5,"titlePadding":2}}},
"layer":[
{"data":{"name":"ag"},"mark":{"type":"circle","opacity":1,"size":18},"encoding":{"x":{"field":"x"},"y":{"field":"y"},"color":{"datum":"not significant: 4075","scale":{"domain":["down regulated: 875","not significant: 4075","up regulated: 450"],"range":["#6699ff","#cccccc","#ff9999"]},"legend":{"title":"Differential metabolites ( 1325 )","orient":"none","legendX":190,"legendY":103,"symbolType":"circle","symbolSize":6,"rowPadding":6,"labelOffset":7,"symbolOffset":4,"titlePadding":6,"encoding":{"symbols":{"opacity":{"value":1}}}}}}},
{"data":{"name":"ab"},"mark":{"type":"circle","opacity":1},"encoding":{"x":{"field":"x"},"y":{"field":"y"},"color":{"datum":"down regulated: 875"},"size":{"field":"v","type":"quantitative","scale":{"domain":[1,3],"range":[8,32]},"legend":{"title":"VIP","orient":"none","legendX":190,"legendY":29,"values":[1,2,3],"format":"d","symbolType":"circle","rowPadding":3.3,"labelOffset":8,"symbolOffset":3,"titlePadding":6,"encoding":{"symbols":{"opacity":{"value":1},"fill":{"value":"#000"}}}}}}},
{"data":{"name":"ap"},"mark":{"type":"circle","opacity":1},"encoding":{"x":{"field":"x"},"y":{"field":"y"},"color":{"datum":"up regulated: 450"},"size":{"field":"v","type":"quantitative"}}},
{"mark":{"type":"rule","strokeDash":[4,2,1,2],"color":"#222","strokeWidth":0.8},"data":{"values":[{"x":0}]},"encoding":{"x":{"field":"x"},"y":null}},
{"mark":{"type":"rule","strokeDash":[4,2,1,2],"color":"#222","strokeWidth":0.8},"data":{"values":[{"y":1.3}]},"encoding":{"y":{"field":"y"},"x":null}},
{"mark":{"type":"text","fontSize":15,"color":"#111","baseline":"alphabetic"},"data":{"values":[{"x":-6.55,"y":5.9,"t":"a"}]},"encoding":{"x":{"field":"x"},"y":{"field":"y"},"text":{"field":"t"}}},
{"mark":{"type":"text","fontSize":9,"color":"#222","align":"left"},"data":{"values":[{"x":-5.45,"y":6.1,"t":"BD VS HH"}]},"encoding":{"x":{"field":"x"},"y":{"field":"y"},"text":{"field":"t"}}}
]},
{"width":175.5,"height":188,
"encoding":{"x":{"type":"quantitative","scale":{"domain":[-7.5,7.6],"nice":false},"axis":{"values":[-4,0,4],"title":"log₂(Fold Change)","titlePadding":2}},"y":{"type":"quantitative","scale":{"domain":[-0.29,6.6],"nice":false},"axis":{"values":[0,1.3,3,6],"format":".1~f","title":"−log₁₀(P VALUE)","titleFontSize":9.5,"titlePadding":5}}},
"layer":[
{"data":{"name":"bg"},"mark":{"type":"circle","opacity":1,"size":18},"encoding":{"x":{"field":"x"},"y":{"field":"y"},"color":{"datum":"not significant: 3492","scale":{"domain":["down regulated: 1193","not significant: 3492","up regulated: 249"],"range":["#6699ff","#cccccc","#ff9999"]},"legend":{"title":"Differential metabolites ( 1442 )","orient":"none","legendX":189,"legendY":37,"symbolType":"circle","symbolSize":6,"rowPadding":6,"labelOffset":7,"symbolOffset":4,"titlePadding":6,"encoding":{"symbols":{"opacity":{"value":1}}}}}}},
{"data":{"name":"bb"},"mark":{"type":"circle","opacity":1},"encoding":{"x":{"field":"x"},"y":{"field":"y"},"color":{"datum":"down regulated: 1193"},"size":{"field":"v","type":"quantitative","scale":{"domain":[1,2],"range":[8,24]},"legend":{"title":"VIP","orient":"none","legendX":189,"legendY":110,"values":[1,2],"format":"d","symbolType":"circle","rowPadding":4.3,"labelOffset":8,"symbolOffset":3,"titlePadding":6,"encoding":{"symbols":{"opacity":{"value":1},"fill":{"value":"#000"}}}}}}},
{"data":{"name":"bp"},"mark":{"type":"circle","opacity":1},"encoding":{"x":{"field":"x"},"y":{"field":"y"},"color":{"datum":"up regulated: 249"},"size":{"field":"v","type":"quantitative"}}},
{"mark":{"type":"rule","strokeDash":[4,2,1,2],"color":"#222","strokeWidth":0.8},"data":{"values":[{"x":0}]},"encoding":{"x":{"field":"x"},"y":null}},
{"mark":{"type":"rule","strokeDash":[4,2,1,2],"color":"#222","strokeWidth":0.8},"data":{"values":[{"y":1.3}]},"encoding":{"y":{"field":"y"},"x":null}},
{"mark":{"type":"text","fontSize":15,"color":"#111","baseline":"alphabetic"},"data":{"values":[{"x":-10.35,"y":6.71,"t":"b"}]},"encoding":{"x":{"field":"x"},"y":{"field":"y"},"text":{"field":"t"}}},
{"mark":{"type":"text","fontSize":9,"color":"#222","align":"left"},"data":{"values":[{"x":-7.5,"y":6.98,"t":"BD VS HH"}]},"encoding":{"x":{"field":"x"},"y":{"field":"y"},"text":{"field":"t"}}}
]}],"spacing":168,"bounds":"flush"},
{"width":460,"height":124,"view":{"stroke":null},
"encoding":{
"x":{"field":"c","type":"nominal","scale":{"domain":["A","B","C","D","E","F","G","H","I"],"range":[90,460],"paddingInner":0.17,"paddingOuter":0.1},"axis":{"title":null,"domain":true,"domainColor":"#333","domainWidth":1.2,"ticks":false,"labelAngle":90,"labelAlign":"left","labelBaseline":"middle","labelFont":"Liberation Serif","labelFontSize":10.6,"labelColor":"#222","labelPadding":5,"labelLineHeight":13,"labelOffset":3,"labelExpr":"{'A':['Alanine, aspartate and','glutamate metabolism'],'B':['D-Glutamine and D-','glutamate metabolism'],'C':'Butanoate metabolism','D':['Glycerophospholipid','metabolism'],'E':'','F':['One carbon pool by','folate'],'G':['Pantothenate and CoA','biosynthesis'],'H':['Starch and sucrose','metabolism'],'I':['Glycerophospholipid','metabolism']}[datum.value]","labelOverlap":false,"labelLimit":0}},
"y":{"field":"v","type":"quantitative","scale":{"domain":[0,8],"nice":false},"axis":{"values":[0,1,2,3,4,5,6,7,8],"title":null,"domain":true,"domainColor":"#333","domainWidth":1.2,"offset":-90,"ticks":false,"labelFont":"Liberation Serif","labelFontSize":11,"labelColor":"#333","labelPadding":8,"labelOverlap":false}}},
"layer":[{"data":{"values":[
{"c":"A","s":"Hits","v":7},{"c":"A","s":"p","v":2.35},
{"c":"B","s":"Hits","v":3},{"c":"B","s":"p","v":2.1},
{"c":"C","s":"Hits","v":5},{"c":"C","s":"p","v":1.42},
{"c":"D","s":"Hits","v":6},{"c":"D","s":"p","v":1.27},
{"c":"F","s":"Hits","v":3},{"c":"F","s":"p","v":1.77},
{"c":"G","s":"Hits","v":4},{"c":"G","s":"p","v":1.7},
{"c":"H","s":"Hits","v":5},{"c":"H","s":"p","v":1.62},
{"c":"I","s":"Hits","v":5},{"c":"I","s":"p","v":1.25}]},"mark":{"type":"bar"},"encoding":{
"xOffset":{"field":"s","scale":{"domain":["Hits","p"],"paddingInner":0.21}},
"color":{"field":"s","type":"nominal","scale":{"domain":["Hits","p"],"range":["#4472c4","#ed7d31"]},"legend":{"title":null,"orient":"none","direction":"horizontal","legendX":320,"legendY":5,"labelFont":"Liberation Serif","labelFontSize":10.5,"labelColor":"#222","symbolType":"square","symbolSize":36,"columnPadding":8,"labelOffset":2,"labelExpr":"datum.value=='p'?'-log10（p-value）':'Hits'"}}}},
{"mark":{"type":"text","fontSize":7.5,"color":"#222","dx":-22},"data":{"values":[{"c":"C","v":6.26,"t":"POS"}]},"encoding":{"text":{"field":"t"}}},
{"mark":{"type":"text","fontSize":7.5,"color":"#222","dx":18},"data":{"values":[{"c":"G","v":6.4,"t":"NEG"}]},"encoding":{"text":{"field":"t"}}},
{"mark":{"type":"text","fontSize":14,"color":"#111","dx":-50},"data":{"values":[{"c":"A","v":7.9,"t":"c"}]},"encoding":{"text":{"field":"t"}}}
]}]}
